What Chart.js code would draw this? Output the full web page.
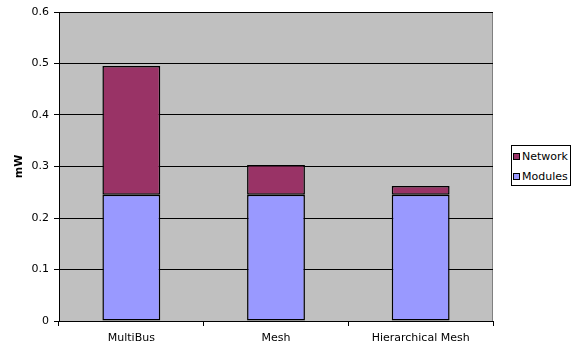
<!DOCTYPE html>
<html>
<head>
<meta charset="utf-8">
<script src="https://cdn.jsdelivr.net/npm/chart.js@4/dist/chart.umd.min.js"></script>
<style>
  html, body { margin: 0; padding: 0; background: #fff; }
  #wrap { position: relative; width: 575px; height: 348px; }
  #legend {
    position: absolute; left: 511px; top: 145px; width: 60px; height: 41px;
    border: 1px solid #000; background: #fff; box-sizing: border-box;
    font: 11px "DejaVu Sans", sans-serif; color: #000;
    padding: 1px 0 0 1px;
  }
  #legend .item { display: flex; align-items: center; height: 19.5px; white-space: nowrap; }
  #legend .sw { width: 7px; height: 7px; border: 1px solid #000; box-sizing: border-box; margin-right: 2px; flex: none; }
</style>
</head>
<body>
<div id="wrap">
  <canvas id="c" width="575" height="348"></canvas>
  <div id="legend"></div>
</div>
<script>
// Power per interconnect architecture, stacked: modules + network (mW)
const categories = ['MultiBus', 'Mesh', 'Hierarchical Mesh'];
const modules = [0.245, 0.245, 0.245];
const network = [0.250, 0.058, 0.017];
const yTicks = [0, 0.1, 0.2, 0.3, 0.4, 0.5, 0.6];

const seriesNames = ['Modules', 'Network'];
const seriesColors = ['#9999FF', '#993366'];

const font = { family: 'DejaVu Sans', size: 11 };

const plotBg = {
  id: 'plotBg',
  beforeDraw(chart) {
    const { ctx, chartArea: a } = chart;
    ctx.save();
    ctx.fillStyle = '#C0C0C0';
    ctx.fillRect(a.left, a.top, a.right - a.left, a.bottom - a.top);
    ctx.strokeStyle = '#808080';
    ctx.lineWidth = 1;
    ctx.beginPath();
    ctx.moveTo(a.left, a.top + 0.5);
    ctx.lineTo(a.right - 0.5, a.top + 0.5);
    ctx.lineTo(a.right - 0.5, a.bottom);
    ctx.stroke();
    ctx.restore();
  },
  afterDraw(chart) {
    const { ctx, chartArea: a } = chart;
    ctx.save();
    ctx.translate(19, (a.top + a.bottom) / 2);
    ctx.rotate(-Math.PI / 2);
    ctx.font = 'bold 11px "DejaVu Sans"';
    ctx.fillStyle = '#000';
    ctx.textAlign = 'center';
    ctx.textBaseline = 'middle';
    ctx.fillText('mW', 0, 0);
    ctx.restore();
  }
};

const chart = new Chart(document.getElementById('c'), {
  type: 'bar',
  data: {
    labels: categories,
    datasets: [
      { label: seriesNames[0], data: modules, backgroundColor: seriesColors[0], borderColor: '#000', borderWidth: 1.5, borderSkipped: false },
      { label: seriesNames[1], data: network, backgroundColor: seriesColors[1], borderColor: '#000', borderWidth: 1.5, borderSkipped: false }
    ]
  },
  options: {
    responsive: false,
    animation: false,
    devicePixelRatio: 1,
    categoryPercentage: 1,
    barPercentage: 0.4,
    layout: { padding: { top: 12, right: 82, bottom: 0, left: 0 } },
    plugins: { legend: { display: false }, tooltip: { enabled: false } },
    scales: {
      x: {
        stacked: true,
        grid: { offset: true, drawOnChartArea: false, drawTicks: true, tickLength: 5, tickColor: '#000' },
        border: { display: true, color: '#000', width: 1 },
        ticks: { color: '#000', font, padding: 6, maxRotation: 0 },
        afterFit(s) { s.height = 27; }
      },
      y: {
        stacked: true,
        min: 0, max: 0.6,
        afterBuildTicks(s) { s.ticks = yTicks.map(v => ({ value: v })); },
        grid: { color: '#000', tickLength: 5, tickColor: '#000', lineWidth: 1 },
        border: { display: true, color: '#000', width: 1 },
        ticks: { color: '#000', font, padding: 5, callback: v => String(+v.toFixed(1)) },
        afterFit(s) { s.width = 59; }
      }
    }
  },
  plugins: [plotBg]
});

// Legend, listed top-down in stacking order
const legend = document.getElementById('legend');
for (let i = seriesNames.length - 1; i >= 0; i--) {
  const item = document.createElement('div');
  item.className = 'item';
  const sw = document.createElement('span');
  sw.className = 'sw';
  sw.style.background = seriesColors[i];
  const t = document.createElement('span');
  t.textContent = seriesNames[i];
  item.appendChild(sw);
  item.appendChild(t);
  legend.appendChild(item);
}
</script>
</body>
</html>
